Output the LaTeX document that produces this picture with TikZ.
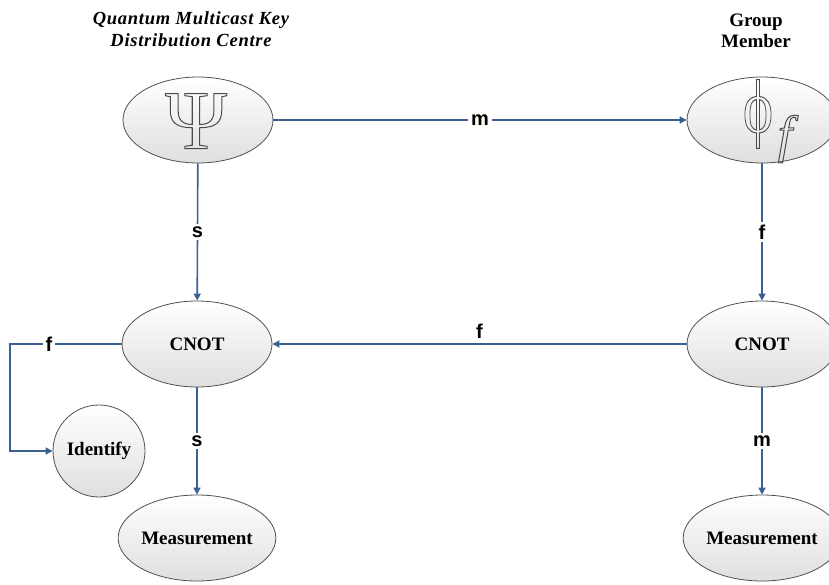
\documentclass[tikz,border=0pt]{standalone}
\usepackage{fontspec}
\setmainfont{Liberation Serif}
\newfontfamily\labelfont{Liberation Sans}
\usetikzlibrary{shapes.geometric,arrows.meta}

\definecolor{linkblue}{HTML}{3B6190}
\definecolor{rimgray}{HTML}{505050}
\definecolor{glyphgray}{HTML}{4A4A4A}

% outlined (stroked) glyphs
\newcommand{\hollow}[1]{\special{pdf:literal direct 1 Tr 1 w}#1\special{pdf:literal direct 0 Tr}}

\tikzset{
  bubble/.style={ellipse, draw=rimgray, line width=0.8pt, top color=white, bottom color=gray!25,
    minimum width=150pt, minimum height=86pt, inner sep=0pt,
    font=\fontsize{19}{19}\selectfont\bfseries},
  glyph/.style={inner sep=0pt, text=glyphgray},
  link/.style={draw=linkblue, line width=1.6pt, -{Triangle[length=7pt,width=7pt]}},
  tag/.style={fill=white, inner sep=3pt, text=black,
    font=\labelfont\fontsize{20}{20}\selectfont\bfseries},
  heading/.style={align=center, inner sep=0pt},
}

\begin{document}
\begin{tikzpicture}[x=1pt,y=1pt]
  \useasboundingbox (0,0) rectangle (829,-584);

  % headings
  \node[heading, font=\fontsize{18.5}{22}\selectfont\bfseries\itshape] (kdctitle) at (191,-29)
    {\addfontfeature{LetterSpace=4}Quantum Multicast Key\\\addfontfeature{LetterSpace=4}Distribution Centre};
  \node[heading, font=\fontsize{19}{21}\selectfont\bfseries] (gmtitle) at (756,-31) {Group\\Member};

  % states
  \node[bubble] (psi) at (198,-120) {};
  \node[glyph, font=\fontsize{84}{84}\selectfont] (psiglyph) at (196,-121) {\hollow{Ψ}};
  \node[bubble] (phi) at (762,-120) {};
  \node[glyph, font=\fontsize{76}{76}\selectfont] (phiglyph) at (758,-114)
    {\hollow{\scalebox{0.75}[1]{ϕ}}};
  \node[glyph, font=\fontsize{52}{52}\selectfont\itshape] (subf) at (785,-139) {\hollow{f}};

  % gates and outputs
  \node[bubble] (cnotL) at (197,-344) {CNOT};
  \node[bubble] (cnotR) at (762,-344) {CNOT};
  \node[circle, draw=rimgray, line width=0.8pt, top color=white, bottom color=gray!25,
    minimum size=92pt, inner sep=0pt, font=\fontsize{19}{19}\selectfont\bfseries] (ident) at (99,-451) {Identify};
  \node[bubble] (measL) at (197,-538) {Measurement};
  \node[bubble] (measR) at (762,-538) {Measurement};

  \coordinate (corner) at (10,-344);

  % connectors
  \draw[link] (psi) -- node[tag]{m} (phi);
  \draw[link] (psi) -- node[tag]{s} (cnotL);
  \draw[link] (phi) -- node[tag]{f} (cnotR);
  \draw[link] (cnotR) -- node[tag, fill=none, above=2pt]{f} (cnotL);
  \draw[link] (cnotL.west) -- node[tag, pos=0.65]{f} (corner) |- (ident.west);
  \draw[link] (cnotL) -- node[tag]{s} (measL);
  \draw[link] (cnotR) -- node[tag]{m} (measR);
\end{tikzpicture}
\end{document}
